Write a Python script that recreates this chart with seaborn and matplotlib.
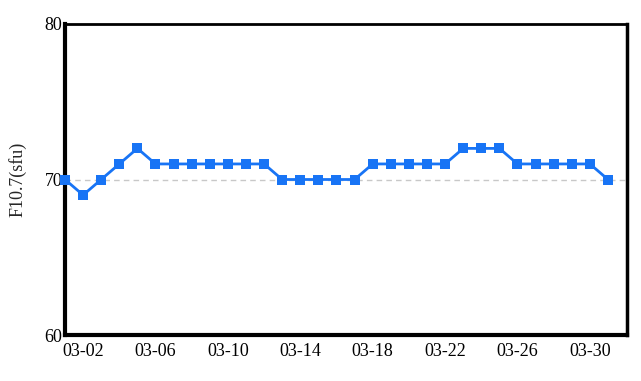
import matplotlib
matplotlib.use("Agg")
import matplotlib.pyplot as plt
from matplotlib.ticker import FixedLocator
import seaborn as sns
import pandas as pd

dates = [f"03-{d:02d}" for d in range(1, 32)]
values = [70, 69, 70, 71, 72, 71, 71, 71, 71, 71, 71, 71, 70, 70, 70, 70, 70,
          71, 71, 71, 71, 71, 72, 72, 72, 71, 71, 71, 71, 71, 70]
tick_labels = ["03-02", "03-06", "03-10", "03-14", "03-18", "03-22", "03-26", "03-30"]
y_labels = ["60", "70", "80"]

df = pd.DataFrame({"idx": range(len(dates)), "date": dates, "value": values})

sns.set_style("white")
plt.rcParams["font.family"] = ["Liberation Serif", "DejaVu Serif"]

fig = plt.figure(figsize=(6.41, 3.81), dpi=100)
ax = fig.add_axes([65/641, 1-335/381, (627-65)/641, (335-24)/381])

ax.axhline(70, color="#c8c8c8", lw=1, ls=(0, (4, 3)), zorder=1)
sns.lineplot(data=df, x="idx", y="value", ax=ax, color="#1874f5", lw=2,
             marker="s", markersize=6.5, markeredgewidth=0, zorder=3, clip_on=False)

ax.set_xlim(0, 31.05)
ax.set_ylim(60, 80)
ax.set_yticks([60, 70, 80])
ax.set_yticklabels(y_labels)
ax.yaxis.set_minor_locator(FixedLocator([65, 75]))
major_pos = [dates.index(t) for t in tick_labels]
ax.set_xticks(major_pos)
ax.set_xticklabels(tick_labels)
ax.xaxis.set_minor_locator(FixedLocator([i for i in range(1, 31) if i not in major_pos]))

ax.tick_params(axis="both", which="major", direction="in", length=6, width=1,
               labelsize=13, colors="black", pad=3)
ax.tick_params(axis="both", which="minor", direction="in", length=3, width=1)
ax.tick_params(axis="x", which="major", pad=6)
ax.tick_params(axis="y", which="major", length=0, pad=2)
ax.tick_params(axis="y", which="minor", length=4)

for s, w in [("left", 3), ("bottom", 3), ("top", 2), ("right", 2.5)]:
    ax.spines[s].set_visible(True)
    ax.spines[s].set_color("black")
    ax.spines[s].set_linewidth(w)

ax.set_xlabel("")
ax.set_ylabel("F10.7(sfu)", fontsize=13)
ax.yaxis.set_label_coords(-0.068, 0.5)

fig.savefig("out.png", dpi=100)
